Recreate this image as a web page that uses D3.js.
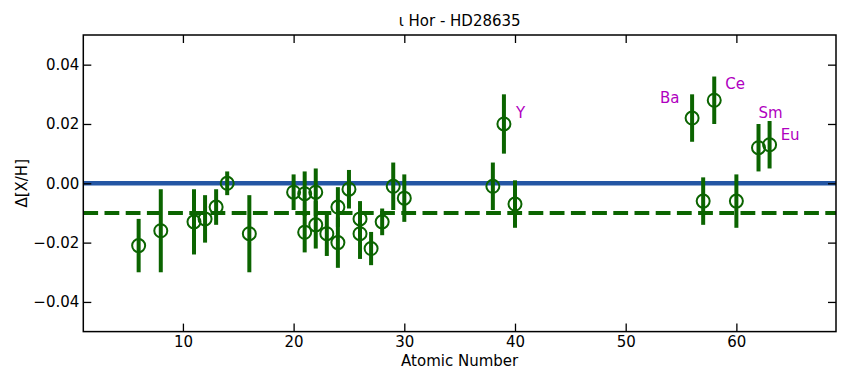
<!DOCTYPE html>
<html>
<head>
<meta charset="utf-8">
<script src="https://cdn.jsdelivr.net/npm/d3@7"></script>
<style>
  html, body { margin: 0; padding: 0; background: #ffffff; }
  svg { display: block; font-family: "DejaVu Sans", sans-serif; }
</style>
</head>
<body>
<svg id="chart" width="846" height="375"></svg>
<script>
// ---- data ----
const atomicNumbers = [6, 8, 11, 12, 13, 14, 16, 20, 21, 21, 22, 22, 23, 24, 24, 25, 26, 26, 27, 28, 29, 30, 38, 39, 40, 56, 57, 58, 60, 62, 63];
const deltaValues   = [-0.021, -0.016, -0.013, -0.012, -0.008, 0.000, -0.017, -0.003, -0.0035, -0.0165, -0.003, -0.014, -0.017, -0.008, -0.020, -0.002, -0.012, -0.017, -0.022, -0.013, -0.001, -0.005, -0.001, 0.020, -0.007, 0.022, -0.006, 0.028, -0.006, 0.012, 0.013];
const deltaErrors   = [0.009, 0.014, 0.011, 0.008, 0.006, 0.004, 0.013, 0.006, 0.0075, 0.0068, 0.008, 0.008, 0.0075, 0.0067, 0.0085, 0.0065, 0.006, 0.0085, 0.0056, 0.0045, 0.008, 0.008, 0.008, 0.010, 0.008, 0.008, 0.008, 0.008, 0.009, 0.008, 0.008];

const labelTexts = ["Y", "Ba", "Ce", "Sm", "Eu"];
const labelX     = [40.1, 53.1, 59.0, 62.0, 64.0];
const labelY     = [0.022, 0.027, 0.0318, 0.022, 0.0146];

const xTicks = [10, 20, 30, 40, 50, 60];
const yTicks = [-0.04, -0.02, 0.00, 0.02, 0.04];
const referenceLine = 0.0;
const meanLine = -0.010;

const titleText = "\u03b9 Hor - HD28635";
const xLabelText = "Atomic Number";
const yLabelText = "\u0394[X/H]";

// ---- layout ----
(function () {
const svg = d3.select("#chart");
const pLeft = 83.3, pRight = 836, pTop = 35, pBottom = 331.6;
const green = "#0b6400";
const x = d3.scaleLinear().domain([1, 69]).range([pLeft, pRight]);
const y = d3.scaleLinear().domain([-0.05, 0.05]).range([pBottom, pTop]);
const fontSize = 15;

const plot = svg.append("g");

// reference lines
plot.append("line")
  .attr("x1", pLeft).attr("x2", pRight)
  .attr("y1", y(referenceLine)).attr("y2", y(referenceLine))
  .attr("stroke", "#2456a4").attr("stroke-width", 4.5);

plot.append("line")
  .attr("x1", pLeft).attr("x2", pRight)
  .attr("y1", y(meanLine)).attr("y2", y(meanLine))
  .attr("stroke", green).attr("stroke-width", 4)
  .attr("stroke-dasharray", "14.8,6.4");

const pts = atomicNumbers.map((z, i) => ({z, v: deltaValues[i], e: deltaErrors[i]}));

// error bars
plot.selectAll("line.err").data(pts).enter().append("line")
  .attr("class", "err")
  .attr("x1", d => x(d.z)).attr("x2", d => x(d.z))
  .attr("y1", d => y(d.v + d.e)).attr("y2", d => y(d.v - d.e))
  .attr("stroke", green).attr("stroke-width", 4);

// markers
plot.selectAll("circle.pt").data(pts).enter().append("circle")
  .attr("class", "pt")
  .attr("cx", d => x(d.z)).attr("cy", d => y(d.v))
  .attr("r", 6.5)
  .attr("fill", "none")
  .attr("stroke", green).attr("stroke-width", 2);

// element labels
plot.selectAll("text.lab").data(labelTexts).enter().append("text")
  .attr("class", "lab")
  .attr("x", (d, i) => x(labelX[i]))
  .attr("y", (d, i) => y(labelY[i]))
  .attr("font-size", fontSize)
  .attr("fill", "#b000c0")
  .text(d => d);

// axes (inward ticks on all sides)
const tickLen = 8;
const axB = svg.append("g").attr("transform", `translate(0,${pBottom})`)
  .call(d3.axisBottom(x).tickValues(xTicks).tickSizeInner(-tickLen).tickSizeOuter(0).tickPadding(5).tickFormat(d3.format("d")));
const axT = svg.append("g").attr("transform", `translate(0,${pTop})`)
  .call(d3.axisTop(x).tickValues(xTicks).tickSizeInner(-tickLen).tickSizeOuter(0).tickFormat(""));
const fmtY = v => (v < 0 ? "\u2212" : "") + d3.format(".2f")(Math.abs(v));
const axL = svg.append("g").attr("transform", `translate(${pLeft},0)`)
  .call(d3.axisLeft(y).tickValues(yTicks).tickSizeInner(-tickLen).tickSizeOuter(0).tickPadding(4).tickFormat(fmtY));
const axR = svg.append("g").attr("transform", `translate(${pRight},0)`)
  .call(d3.axisRight(y).tickValues(yTicks).tickSizeInner(-tickLen).tickSizeOuter(0).tickFormat(""));

[axB, axT, axL, axR].forEach(a => {
  a.select(".domain").remove();
  a.selectAll(".tick line").attr("stroke", "#000").attr("stroke-width", 1.3);
  a.selectAll(".tick text").attr("font-size", fontSize).attr("fill", "#000")
    .attr("font-family", "DejaVu Sans, sans-serif");
});
axL.selectAll(".tick text").attr("x", -4);

// frame
svg.append("rect")
  .attr("x", pLeft).attr("y", pTop)
  .attr("width", pRight - pLeft).attr("height", pBottom - pTop)
  .attr("fill", "none").attr("stroke", "#000").attr("stroke-width", 1.5);

// title and labels
svg.append("text")
  .attr("x", (pLeft + pRight) / 2).attr("y", 26)
  .attr("text-anchor", "middle").attr("font-size", fontSize)
  .text(titleText);
svg.append("text")
  .attr("x", (pLeft + pRight) / 2).attr("y", 366)
  .attr("text-anchor", "middle").attr("font-size", fontSize)
  .text(xLabelText);
svg.append("text")
  .attr("transform", `translate(27,${(pTop + pBottom) / 2}) rotate(-90)`)
  .attr("text-anchor", "middle").attr("font-size", fontSize)
  .text(yLabelText);
})();
</script>
</body>
</html>
